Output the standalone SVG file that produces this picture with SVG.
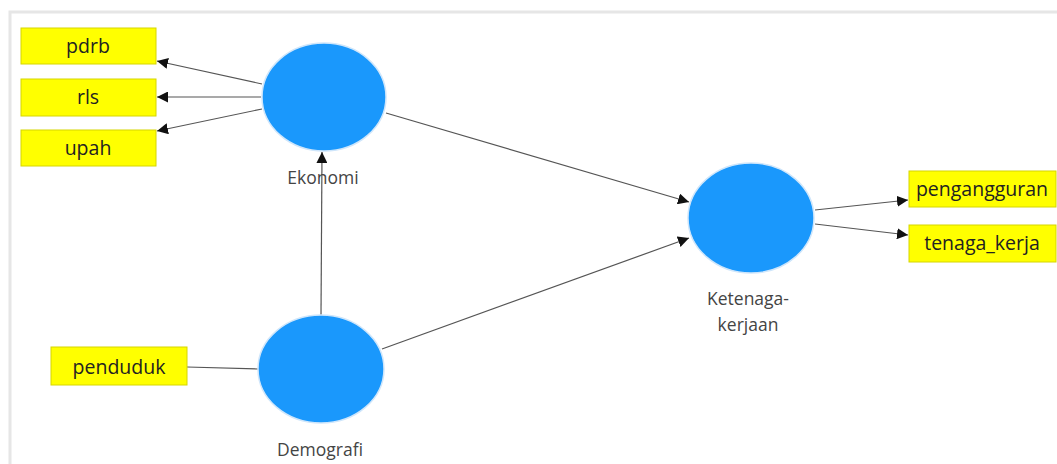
<svg xmlns="http://www.w3.org/2000/svg" width="1057" height="464" viewBox="0 0 1057 464">
<style>
.ind{fill:#ffff00;stroke:#d6d600;stroke-width:1}
.itxt{font-family:"Open Sans","Noto Sans",sans-serif;font-size:19.5px;fill:#222;text-anchor:middle}
.lat{fill:#1a98fc;stroke:#cfe6fb;stroke-width:1.5}
.ltxt{font-family:"Open Sans","Noto Sans",sans-serif;font-size:17.5px;fill:#444;text-anchor:middle}
.edge{stroke:#555;stroke-width:1.2;fill:none}
</style>
<defs>
<marker id="ah" viewBox="0 0 10 10" refX="10" refY="5" markerWidth="11" markerHeight="11" markerUnits="userSpaceOnUse" orient="auto">
<path d="M0,0 L10,5 L0,10 z" fill="#111"/>
</marker>
</defs>
<rect width="1057" height="464" fill="#ffffff"/>
<g id="frame">
<rect x="10" y="12" width="1060" height="470" fill="none" stroke="#e6e6e6" stroke-width="3"/>
</g>
<g id="connectors">
<line class="edge" x1="262" y1="84" x2="157" y2="61" marker-end="url(#ah)"/>
<line class="edge" x1="261" y1="97" x2="157" y2="97" marker-end="url(#ah)"/>
<line class="edge" x1="262" y1="109" x2="157" y2="131" marker-end="url(#ah)"/>
<line class="edge" x1="386" y1="113" x2="689" y2="202" marker-end="url(#ah)"/>
<line class="edge" x1="815" y1="210" x2="908" y2="200" marker-end="url(#ah)"/>
<line class="edge" x1="815" y1="224" x2="908" y2="235" marker-end="url(#ah)"/>
<line class="edge" x1="187" y1="367" x2="258" y2="369"/>
<line class="edge" x1="321" y1="315" x2="322" y2="152" marker-end="url(#ah)"/>
<line class="edge" x1="382" y1="349" x2="689" y2="238" marker-end="url(#ah)"/>
</g>
<g id="pdrb"><rect class="ind" x="21" y="28" width="135" height="36"/><text class="itxt" x="88" y="53">pdrb</text></g>
<g id="rls"><rect class="ind" x="21" y="79" width="135" height="37"/><text class="itxt" x="88" y="104">rls</text></g>
<g id="upah"><rect class="ind" x="21" y="130" width="135" height="36"/><text class="itxt" x="88" y="155">upah</text></g>
<g id="ekonomi"><ellipse class="lat" cx="324" cy="97" rx="62" ry="54"/><text class="ltxt" x="323" y="184">Ekonomi</text></g>
<g id="ketenagakerjaan"><ellipse class="lat" cx="751" cy="218" rx="63" ry="55"/><text class="ltxt" x="748" y="305">Ketenaga-</text><text class="ltxt" x="748" y="331">kerjaan</text></g>
<g id="pengangguran"><rect class="ind" x="909" y="171" width="147" height="36"/><text class="itxt" x="982" y="196">pengangguran</text></g>
<g id="tenaga_kerja"><rect class="ind" x="909" y="225" width="147" height="37"/><text class="itxt" x="982" y="250">tenaga_kerja</text></g>
<g id="demografi"><ellipse class="lat" cx="321" cy="369" rx="63" ry="54"/><text class="ltxt" x="320" y="456">Demografi</text></g>
<g id="penduduk"><rect class="ind" x="51" y="347" width="136" height="38"/><text class="itxt" x="119" y="374">penduduk</text></g>
</svg>
